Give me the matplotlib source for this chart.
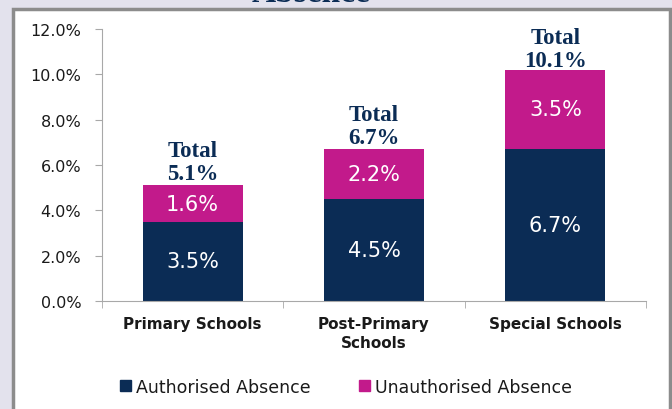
import matplotlib.pyplot as plt
from matplotlib.patches import Patch, Rectangle

schools = ["Primary Schools", "Post-Primary\nSchools", "Special Schools"]
authorised = [3.5, 4.5, 6.7]
unauthorised = [1.6, 2.2, 3.5]
totals = [5.1, 6.7, 10.1]
y_ticks = [0, 2, 4, 6, 8, 10, 12]

navy = "#0b2c55"
magenta = "#c21a8b"
axis_grey = "#a8a8a8"

fig = plt.figure(figsize=(6.72, 4.10), dpi=100)
fig.patch.set_facecolor("#e3e2ed")

# white chart panel with a grey frame, bottom runs off the picture
fig.patches.append(Rectangle((13 / 672, -0.02), 657 / 672, 1.0 - 10 / 410 + 0.02,
                             transform=fig.transFigure, facecolor="white",
                             edgecolor="#8c8c8c", linewidth=2.5, zorder=-10))

# title is cut off by the top edge, only its lower part shows
fig.text(311 / 672, 1 - 2 / 410, "Absence", ha="center", va="baseline",
         fontsize=24, fontweight="bold", family="Liberation Serif", color=navy)

ax = fig.add_axes([102 / 672, 1 - 302 / 410, 544 / 672, 272 / 410])
ax.set_facecolor("none")

x = list(range(len(schools)))
low = ax.bar(x, authorised, width=0.55, color=navy, linewidth=0, zorder=2)
high = ax.bar(x, unauthorised, width=0.55, bottom=authorised, color=magenta,
              linewidth=0, zorder=2)

ax.bar_label(low, labels=[f"{v}%" for v in authorised], label_type="center",
             color="white", fontsize=15, family="DejaVu Sans")
ax.bar_label(high, labels=[f"{v}%" for v in unauthorised], label_type="center",
             color="white", fontsize=15, family="DejaVu Sans")

for xi, t in zip(x, totals):
    ax.annotate(f"Total\n{t}%", (xi, t), xytext=(0, 1), textcoords="offset points",
                ha="center", va="bottom", fontsize=16.5, fontweight="bold",
                family="Liberation Serif", color=navy, linespacing=1.1)

ax.set_xlim(-0.5, 2.5)
ax.set_ylim(0, 12)
ax.set_yticks(y_ticks)
ax.set_yticklabels([f"{v:.1f}%" for v in y_ticks], fontsize=11.5,
                   family="DejaVu Sans", color="#1a1a1a")
ax.tick_params(axis="y", length=5, color=axis_grey, pad=10)

ax.set_xticks(x)
ax.set_xticklabels(schools, fontsize=11, fontweight="bold", family="DejaVu Sans",
                   linespacing=1.35, color="#1a1a1a")
ax.set_xticks([-0.5, 0.5, 1.5, 2.5], minor=True)
ax.tick_params(axis="x", which="major", length=0, pad=11)
ax.tick_params(axis="x", which="minor", length=5, color=axis_grey)

for side in ["top", "right"]:
    ax.spines[side].set_visible(False)
for side in ["left", "bottom"]:
    ax.spines[side].set_color(axis_grey)

handles = [Patch(color=navy, label="Authorised Absence"),
           Patch(color=magenta, label="Unauthorised Absence")]
fig.legend(handles=handles, loc="center", bbox_to_anchor=(0.515, 1 - 388 / 410),
           ncol=2, frameon=False,
           prop={"family": "DejaVu Sans", "size": 12.5},
           labelcolor="#1a1a1a",
           handlelength=0.6, handleheight=0.6, handletextpad=0.3, columnspacing=2.8)

fig.savefig("out.png", dpi=100, facecolor=fig.get_facecolor())
